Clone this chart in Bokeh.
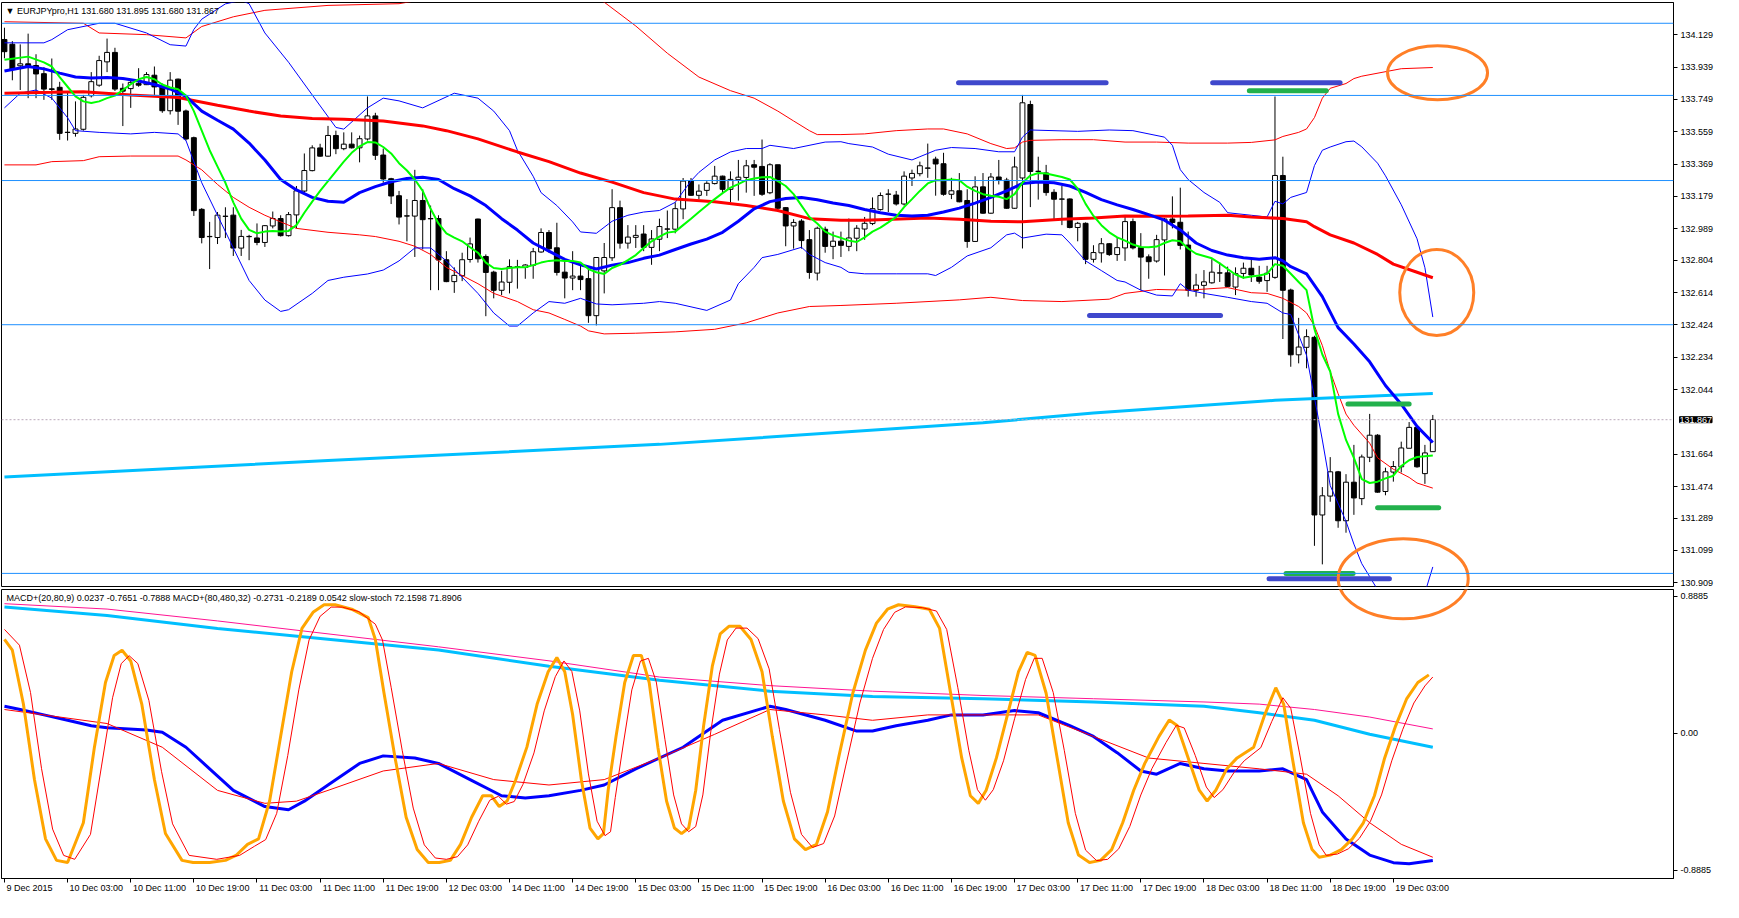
from bokeh.plotting import figure
from bokeh.models import (Range1d, FixedTicker, PrintfTickFormatter, Span, Label, ColumnDataSource,
                          LinearAxis)
from bokeh.layouts import column
from bokeh.embed import file_html
from bokeh.resources import INLINE

FONT = "Liberation Sans"

# ---------------- price data (H1 candles, bar index 0..181) ----------------
open_ = [134.100, 134.072, 133.947, 133.957, 133.947, 133.899, 133.810, 133.819, 133.555, 133.550,
         133.574, 133.771, 133.833, 133.970, 134.024, 133.813, 133.813, 133.842, 133.836, 133.890,
         133.823, 133.683, 133.867, 133.680, 133.523, 133.102, 132.943, 132.938, 133.062, 133.068,
         132.876, 132.943, 132.934, 132.909, 133.006, 133.048, 132.949, 133.071, 133.211, 133.331,
         133.463, 133.416, 133.536, 133.460, 133.485, 133.465, 133.517, 133.651, 133.421, 133.282,
         133.182, 133.064, 133.064, 133.154, 133.048, 133.048, 132.806, 132.679, 132.714, 132.809,
         133.045, 132.825, 132.733, 132.628, 132.675, 132.765, 132.762, 132.775, 132.853, 132.966,
         132.876, 132.733, 132.700, 132.710, 132.695, 132.479, 132.742, 132.819, 133.112, 132.905,
         132.939, 132.957, 132.880, 132.928, 132.987, 132.987, 133.106, 133.268, 133.186, 133.215,
         133.255, 133.297, 133.221, 133.278, 133.291, 133.364, 133.354, 133.201, 133.364, 133.112,
         133.006, 133.033, 132.924, 132.729, 132.985, 132.886, 132.915, 132.886, 132.934, 132.988,
         133.020, 133.102, 133.192, 133.186, 133.135, 133.288, 133.313, 133.345, 133.397, 133.370,
         133.192, 133.211, 133.154, 132.915, 133.234, 133.081, 133.292, 133.274, 133.110, 133.288,
         133.718, 133.326, 133.316, 133.202, 133.163, 133.163, 132.997, 133.020, 132.810, 132.848,
         132.900, 132.838, 132.877, 133.030, 132.877, 132.823, 132.800, 132.924, 133.045, 133.026,
         132.892, 132.628, 132.657, 132.672, 132.729, 132.729, 132.647, 132.727, 132.756, 132.704,
         132.685, 132.704, 133.301, 132.628, 132.249, 132.293, 132.350, 131.308, 131.419, 131.560,
         131.274, 131.499, 131.404, 131.647, 131.775, 131.446, 131.560, 131.591, 131.700, 131.821,
         131.551, 131.680]
high = [134.170, 134.091, 134.072, 134.135, 134.014, 133.938, 133.989, 133.852, 133.794, 133.737,
        133.775, 133.909, 134.005, 134.106, 134.052, 133.842, 133.861, 133.932, 133.909, 133.942,
        133.842, 133.909, 133.871, 133.689, 133.530, 133.110, 133.029, 133.087, 133.115, 133.115,
        132.982, 132.953, 133.020, 133.010, 133.090, 133.068, 133.087, 133.240, 133.431, 133.479,
        133.488, 133.593, 133.565, 133.555, 133.555, 133.536, 133.766, 133.670, 133.460, 133.288,
        133.211, 133.163, 133.335, 133.221, 133.125, 133.068, 132.857, 132.762, 132.848, 132.937,
        133.048, 132.838, 132.742, 132.742, 132.809, 132.806, 132.781, 132.876, 132.991, 132.981,
        133.024, 132.800, 132.857, 132.771, 132.762, 132.819, 132.905, 133.221, 133.154, 133.010,
        133.010, 133.010, 132.981, 133.048, 133.096, 133.144, 133.287, 133.287, 133.249, 133.268,
        133.358, 133.301, 133.326, 133.393, 133.393, 133.393, 133.513, 133.374, 133.364, 133.115,
        133.045, 133.045, 132.981, 133.001, 133.001, 132.972, 132.972, 133.049, 133.010, 133.058,
        133.173, 133.202, 133.221, 133.211, 133.326, 133.336, 133.383, 133.489, 133.412, 133.435,
        133.288, 133.316, 133.221, 133.297, 133.316, 133.316, 133.393, 133.288, 133.412, 133.775,
        133.741, 133.412, 133.364, 133.221, 133.240, 133.167, 133.029, 133.026, 132.892, 132.934,
        132.905, 132.934, 133.058, 133.049, 132.963, 132.838, 132.953, 133.052, 133.179, 133.230,
        132.972, 132.724, 132.746, 132.810, 132.790, 132.766, 132.762, 132.790, 132.810, 132.771,
        132.771, 133.766, 133.412, 132.637, 132.465, 132.398, 132.360, 131.471, 131.647, 131.566,
        131.547, 131.719, 131.662, 131.901, 131.782, 131.585, 131.624, 131.738, 131.853, 131.834,
        131.719, 131.895]
low = [133.990, 133.861, 133.804, 133.756, 133.756, 133.746, 133.746, 133.511, 133.507, 133.530,
       133.565, 133.760, 133.823, 133.909, 133.798, 133.592, 133.699, 133.823, 133.833, 133.775,
       133.670, 133.660, 133.599, 133.507, 133.064, 132.903, 132.752, 132.899, 132.934, 132.829,
       132.829, 132.804, 132.892, 132.882, 132.991, 132.943, 132.943, 132.991, 133.201, 133.326,
       133.412, 133.412, 133.427, 133.450, 133.460, 133.379, 133.507, 133.393, 133.259, 133.134,
       133.014, 132.915, 132.823, 132.867, 132.628, 132.628, 132.675, 132.612, 132.681, 132.790,
       132.790, 132.475, 132.580, 132.599, 132.609, 132.637, 132.695, 132.695, 132.848, 132.848,
       132.714, 132.580, 132.628, 132.628, 132.436, 132.421, 132.609, 132.800, 132.872, 132.872,
       132.876, 132.857, 132.777, 132.857, 132.934, 132.962, 133.045, 133.182, 133.163, 133.182,
       133.249, 133.201, 133.144, 133.154, 133.201, 133.182, 133.182, 133.192, 133.096, 132.886,
       132.872, 132.872, 132.695, 132.685, 132.848, 132.810, 132.823, 132.857, 132.857, 132.924,
       133.010, 133.096, 133.087, 133.125, 133.125, 133.240, 133.297, 133.288, 133.183, 133.183,
       133.163, 133.144, 132.877, 132.915, 133.077, 133.077, 133.249, 133.106, 133.106, 132.873,
       133.116, 133.160, 133.183, 133.045, 133.010, 132.991, 132.915, 132.781, 132.790, 132.790,
       132.829, 132.800, 132.800, 132.867, 132.628, 132.695, 132.790, 132.714, 132.991, 132.867,
       132.590, 132.590, 132.580, 132.666, 132.676, 132.647, 132.599, 132.695, 132.676, 132.666,
       132.618, 132.695, 132.341, 132.178, 132.198, 132.169, 131.126, 131.017, 131.385, 131.232,
       131.203, 131.308, 131.365, 131.618, 131.438, 131.423, 131.503, 131.557, 131.700, 131.585,
       131.490, 131.680]
close = [134.030, 133.928, 133.957, 133.947, 133.899, 133.810, 133.808, 133.550, 133.555, 133.574,
         133.760, 133.852, 133.976, 134.024, 133.810, 133.798, 133.848, 133.833, 133.894, 133.823,
         133.683, 133.861, 133.680, 133.517, 133.096, 132.938, 132.943, 133.068, 133.062, 132.876,
         132.943, 132.943, 132.909, 133.006, 133.048, 132.949, 133.071, 133.211, 133.330, 133.463,
         133.416, 133.536, 133.460, 133.485, 133.465, 133.517, 133.651, 133.421, 133.282, 133.182,
         133.058, 133.064, 133.154, 133.043, 133.048, 132.806, 132.679, 132.714, 132.806, 132.899,
         132.813, 132.733, 132.628, 132.675, 132.765, 132.765, 132.775, 132.853, 132.966, 132.872,
         132.733, 132.700, 132.710, 132.691, 132.479, 132.819, 132.819, 133.112, 132.905, 132.939,
         132.949, 132.880, 132.928, 133.001, 132.987, 133.106, 133.268, 133.186, 133.209, 133.255,
         133.297, 133.221, 133.278, 133.291, 133.358, 133.351, 133.192, 133.364, 133.110, 133.006,
         133.025, 132.920, 132.733, 132.991, 132.886, 132.915, 132.892, 132.934, 132.991, 133.020,
         133.106, 133.183, 133.192, 133.135, 133.297, 133.313, 133.358, 133.345, 133.370, 133.192,
         133.211, 133.148, 132.915, 133.234, 133.081, 133.292, 133.274, 133.110, 133.351, 133.728,
         133.326, 133.326, 133.202, 133.163, 133.163, 132.997, 133.020, 132.810, 132.848, 132.900,
         132.838, 132.877, 133.030, 132.877, 132.823, 132.796, 132.924, 133.045, 133.026, 132.892,
         132.628, 132.657, 132.676, 132.733, 132.729, 132.651, 132.724, 132.756, 132.718, 132.681,
         132.727, 133.301, 132.628, 132.249, 132.293, 132.354, 131.308, 131.419, 131.560, 131.274,
         131.499, 131.408, 131.647, 131.775, 131.442, 131.560, 131.591, 131.700, 131.821, 131.591,
         131.671, 131.867]

# ---------------- main-panel indicator lines (bar index, price) ----------------
green_x = [0, 3, 5, 6, 7, 8, 9, 10, 11, 12, 13, 14, 15, 16, 17, 18, 19, 20, 21, 22, 23, 24, 25, 26, 27, 28, 29,
           30, 31, 32, 33, 34, 35, 36, 37, 38, 39, 40, 41, 42, 43, 44, 45, 46, 47, 48, 49, 50, 51, 52, 53, 54,
           55, 56, 57, 58, 59, 60, 61, 62, 63, 64, 65, 66, 67, 68, 69, 70, 71, 72, 73, 74, 75, 76, 77, 78, 79,
           80, 81, 82, 83, 84, 85, 86, 87, 88, 89, 90, 91, 92, 93, 94, 95, 96, 97, 98, 99, 100, 101, 102, 103,
           104, 105, 106, 107, 108, 109, 110, 111, 112, 113, 114, 115, 116, 117, 118, 119, 120, 121, 122, 123,
           124, 125, 126, 127, 128, 129, 130, 131, 132, 133, 134, 135, 136, 137, 138, 139, 140, 141, 142, 143,
           144, 145, 146, 147, 148, 149, 150, 151, 152, 153, 154, 155, 156, 157, 158, 159, 160, 161, 162, 163,
           164, 165, 166, 167, 168, 169, 170, 171, 172, 173, 174, 175, 176, 177, 178, 179, 180, 181]
green_y = [133.982, 134.000, 133.966, 133.942, 133.880, 133.823, 133.766, 133.737, 133.727, 133.737, 133.756,
           133.771, 133.804, 133.838, 133.867, 133.880, 133.867, 133.836, 133.819, 133.808, 133.771, 133.680,
           133.565, 133.450, 133.354, 133.259, 133.144, 133.048, 132.982, 132.962, 132.972, 132.976, 132.972,
           132.976, 133.010, 133.083, 133.148, 133.211, 133.268, 133.326, 133.383, 133.435, 133.473, 133.498,
           133.496, 133.469, 133.431, 133.374, 133.331, 133.278, 133.211, 133.106, 133.020, 132.962, 132.937,
           132.915, 132.880, 132.848, 132.790, 132.758, 132.752, 132.758, 132.762, 132.762, 132.775, 132.790,
           132.800, 132.804, 132.800, 132.800, 132.790, 132.752, 132.733, 132.723, 132.758, 132.777, 132.804,
           132.834, 132.876, 132.915, 132.943, 132.966, 132.972, 133.010, 133.048, 133.087, 133.125, 133.163,
           133.198, 133.230, 133.251, 133.274, 133.284, 133.291, 133.293, 133.268, 133.240, 133.192, 133.125,
           133.058, 133.020, 132.972, 132.950, 132.935, 132.919, 132.911, 132.938, 132.972, 132.995, 133.026,
           133.058, 133.116, 133.163, 133.211, 133.255, 133.274, 133.274, 133.278, 133.274, 133.236, 133.211,
           133.192, 133.183, 133.177, 133.163, 133.192, 133.259, 133.301, 133.316, 133.313, 133.303, 133.293,
           133.278, 133.225, 133.135, 133.064, 133.010, 132.968, 132.938, 132.919, 132.896, 132.882, 132.880,
           132.884, 132.905, 132.921, 132.915, 132.873, 132.842, 132.829, 132.815, 132.785, 132.752, 132.720,
           132.701, 132.708, 132.714, 132.724, 132.781, 132.771, 132.724, 132.676, 132.628, 132.400, 132.250,
           132.150, 131.901, 131.748, 131.643, 131.518, 131.495, 131.503, 131.522, 131.538, 131.595, 131.629,
           131.648, 131.652, 131.656]

blue_x = [0, 3, 5, 7, 9, 11, 13, 15, 17, 19, 21, 23, 25, 27, 29, 31, 33, 35, 37, 39, 41, 43, 45, 47, 49, 51, 53,
          55, 57, 59, 61, 63, 65, 67, 69, 71, 73, 75, 77, 79, 81, 83, 85, 87, 89, 91, 93, 95, 97, 99, 101, 103,
          105, 107, 109, 111, 113, 115, 117, 119, 121, 123, 125, 127, 129, 131, 133, 135, 137, 139, 141, 143,
          145, 147, 149, 151, 153, 155, 157, 159, 161, 162, 163, 165, 167, 169, 171, 173, 175, 177, 179, 181]
blue_y = [133.915, 133.942, 133.928, 133.903, 133.880, 133.875, 133.878, 133.871, 133.857, 133.836, 133.810,
          133.766, 133.680, 133.626, 133.574, 133.492, 133.393, 133.278, 133.217, 133.173, 133.150, 133.144,
          133.201, 133.236, 133.265, 133.284, 133.291, 133.278, 133.224, 133.182, 133.125, 133.048, 132.981,
          132.905, 132.857, 132.809, 132.777, 132.752, 132.775, 132.790, 132.815, 132.834, 132.867, 132.899,
          132.928, 132.968, 133.033, 133.106, 133.148, 133.167, 133.173, 133.159, 133.140, 133.125, 133.102,
          133.083, 133.068, 133.064, 133.068, 133.087, 133.110, 133.139, 133.173, 133.211, 133.255, 133.263,
          133.259, 133.240, 133.202, 133.160, 133.129, 133.102, 133.072, 133.039, 132.982, 132.905, 132.861,
          132.834, 132.819, 132.810, 132.819, 132.800, 132.766, 132.724, 132.590, 132.408, 132.312, 132.207,
          132.068, 131.958, 131.828, 131.733]

red_x = [0, 6, 10, 16, 22, 27, 31, 35, 39, 43, 48, 53, 56, 60, 65, 69, 73, 77, 81, 85, 90, 94, 98, 102, 106,
         109, 117, 121, 125, 129, 134, 138, 142, 146, 150, 155, 158, 162, 165, 166, 168, 171, 174, 176, 179, 181]
red_y = [133.785, 133.790, 133.794, 133.775, 133.760, 133.714, 133.680, 133.651, 133.637, 133.632, 133.622,
         133.593, 133.565, 133.517, 133.440, 133.383, 133.316, 133.263, 133.201, 133.163, 133.148, 133.125,
         133.096, 133.048, 133.039, 133.039, 133.052, 133.045, 133.033, 133.030, 133.045, 133.052, 133.064,
         133.062, 133.064, 133.068, 133.058, 133.049, 133.030, 133.001, 132.953, 132.905, 132.838, 132.781,
         132.733, 132.701]

cyan_x = [0, 41, 83, 124, 138, 161, 181]
cyan_y = [131.531, 131.627, 131.722, 131.849, 131.906, 131.981, 132.021]

bbup_x = [0, 5, 6, 8, 12, 14, 18, 21, 23, 24, 25, 26, 28, 30, 31, 33, 36, 39, 42, 43, 46, 48, 50, 53, 57, 60,
          62, 64, 65, 67, 68, 70, 72, 73, 75, 77, 79, 81, 83, 85, 87, 88, 90, 92, 94, 96, 97, 100, 104, 106,
          107, 110, 112, 115, 116, 118, 120, 123, 126, 128, 129, 130, 136, 140, 143, 147, 148, 149, 150, 152,
          154, 155, 158, 160, 161, 162, 163, 165, 166, 167, 168, 170, 171, 172, 174, 175, 177, 179, 180, 181]
bbup_y = [134.081, 134.081, 134.100, 134.158, 134.196, 134.196, 134.139, 134.070, 134.062, 134.160, 134.220,
          134.250, 134.310, 134.330, 134.311, 134.139, 133.967, 133.775, 133.584, 133.574, 133.699, 133.756,
          133.740, 133.699, 133.785, 133.756, 133.680, 133.565, 133.450, 133.297, 133.201, 133.125, 133.029,
          132.970, 132.962, 133.033, 133.068, 133.087, 133.096, 133.144, 133.270, 133.320, 133.393, 133.440,
          133.460, 133.460, 133.479, 133.460, 133.498, 133.500, 133.489, 133.469, 133.427, 133.393, 133.412,
          133.450, 133.466, 133.460, 133.441, 133.441, 133.527, 133.569, 133.561, 133.569, 133.565, 133.527,
          133.479, 133.336, 133.278, 133.202, 133.144, 133.083, 133.068, 133.058, 133.150, 133.135, 133.173,
          133.202, 133.360, 133.450, 133.469, 133.500, 133.504, 133.470, 133.374, 133.300, 133.130, 132.930,
          132.760, 132.470]

bblo_x = [0, 2, 4, 6, 8, 9, 12, 16, 19, 22, 23, 25, 27, 29, 31, 33, 35, 36, 39, 41, 43, 46, 48, 50, 52, 54,
          56, 58, 60, 62, 64, 65, 67, 69, 71, 73, 75, 77, 81, 83, 85, 89, 92, 93, 95, 96, 98, 101, 102, 104,
          106, 107, 109, 113, 117, 118, 120, 122, 125, 127, 128, 129, 132, 134, 135, 137, 139, 141, 142, 144,
          146, 148, 149, 150, 152, 155, 158, 160, 162, 163, 165, 166, 167, 168, 170, 171, 172, 173, 174, 175,
          177, 179, 180, 181]
bblo_y = [133.699, 133.785, 133.804, 133.756, 133.641, 133.565, 133.555, 133.546, 133.555, 133.546, 133.507,
          133.259, 133.068, 132.876, 132.685, 132.570, 132.503, 132.513, 132.609, 132.685, 132.704, 132.723,
          132.746, 132.800, 132.876, 132.876, 132.800, 132.704, 132.609, 132.494, 132.417, 132.417, 132.494,
          132.561, 132.551, 132.580, 132.547, 132.542, 132.551, 132.561, 132.551, 132.509, 132.570, 132.666,
          132.762, 132.819, 132.838, 132.880, 132.838, 132.790, 132.762, 132.733, 132.724, 132.724, 132.724,
          132.714, 132.762, 132.829, 132.877, 132.953, 132.963, 132.934, 132.957, 132.953, 132.905, 132.800,
          132.743, 132.685, 132.676, 132.628, 132.599, 132.594, 132.666, 132.628, 132.609, 132.586, 132.561,
          132.551, 132.494, 132.485, 132.245, 131.997, 131.748, 131.480, 131.270, 131.136, 131.021, 130.945,
          130.868, 130.800, 130.720, 130.750, 130.850, 131.002]

envup_x = [0, 10, 12, 18, 23, 25, 29, 33, 41, 50, 56, 62, 70, 76, 80, 84, 88, 92, 95, 98, 100, 102, 103, 106,
           109, 113, 117, 119, 122, 125, 127, 128, 129, 130, 134, 138, 142, 146, 150, 155, 158, 161, 162, 164,
           165, 166, 167, 168, 170, 171, 172, 177, 181]
envup_y = [134.205, 134.196, 134.139, 134.129, 134.110, 134.177, 134.234, 134.272, 134.301, 134.311, 134.360,
           134.420, 134.420, 134.320, 134.180, 134.020, 133.880, 133.800, 133.756, 133.680, 133.622, 133.565,
           133.542, 133.542, 133.546, 133.565, 133.575, 133.575, 133.546, 133.489, 133.460, 133.464, 133.498,
           133.508, 133.512, 133.512, 133.498, 133.498, 133.492, 133.492, 133.496, 133.511, 133.531, 133.555,
           133.575, 133.642, 133.756, 133.814, 133.842, 133.871, 133.885, 133.929, 133.936]

envlo_x = [0, 4, 6, 10, 12, 16, 22, 23, 25, 27, 29, 31, 33, 35, 37, 41, 45, 47, 50, 52, 54, 56, 58, 60, 62, 65,
           67, 69, 71, 73, 74, 76, 80, 85, 90, 94, 98, 102, 106, 113, 121, 125, 129, 134, 140, 142, 146, 150,
           155, 158, 160, 162, 164, 165, 166, 167, 168, 169, 170, 171, 173, 174, 176, 178, 179, 181]
envlo_y = [133.364, 133.364, 133.383, 133.389, 133.412, 133.416, 133.416, 133.393, 133.335, 133.249, 133.173,
           133.115, 133.068, 133.029, 132.991, 132.968, 132.953, 132.943, 132.915, 132.886, 132.838, 132.762,
           132.714, 132.666, 132.609, 132.561, 132.513, 132.494, 132.456, 132.417, 132.389, 132.371, 132.375,
           132.383, 132.398, 132.436, 132.494, 132.532, 132.538, 132.551, 132.571, 132.586, 132.567, 132.561,
           132.575, 132.609, 132.632, 132.628, 132.643, 132.613, 132.609, 132.580, 132.532, 132.494, 132.418,
           132.303, 132.150, 132.020, 131.900, 131.834, 131.729, 131.643, 131.576, 131.528, 131.495, 131.465]

# horizontal levels and current price
levels = [134.196, 133.772, 133.272, 132.425, 130.964]
last_price = 131.867
price_ticks = [134.129, 133.939, 133.749, 133.559, 133.369, 133.179, 132.989, 132.804, 132.614, 132.424,
               132.234, 132.044, 131.664, 131.474, 131.289, 131.099, 130.909]

# drawn support / resistance marks (bar start, bar end, price)
blue_mark_x0 = [120.9, 153.1, 137.5, 160.25]
blue_mark_x1 = [139.6, 169.25, 154.1, 175.5]
blue_mark_y = [133.846, 133.846, 132.479, 130.932]
green_mark_x0 = [157.75, 170.25, 174.0, 162.4]
green_mark_x1 = [167.5, 178.0, 181.75, 170.9]
green_mark_y = [133.800, 131.959, 131.350, 130.964]

# orange ellipses: centre (bar, price)
ell_x = [181.6, 181.5, 177.25]
ell_y = [133.905, 132.614, 130.933]

# ---------------- lower panel ----------------
macd_x = [0, 2, 5, 8, 11, 13, 18, 20, 23, 26, 29, 33, 36, 38, 41, 45, 48, 52, 55, 59, 63, 66, 69, 73, 76, 80,
          86, 91, 97, 99, 104, 108, 110, 113, 117, 120, 124, 128, 131, 135, 138, 141, 144, 146, 149, 152, 155,
          159, 162, 165, 167, 170, 173, 176, 178, 181]
macd_y = [0.175, 0.154, 0.119, 0.084, 0.049, 0.035, 0.021, 0.007, -0.091, -0.231, -0.371, -0.476, -0.497,
          -0.441, -0.336, -0.196, -0.147, -0.161, -0.196, -0.301, -0.406, -0.420, -0.406, -0.371, -0.336,
          -0.231, -0.091, 0.084, 0.175, 0.154, 0.084, 0.014, 0.014, 0.049, 0.084, 0.119, 0.119, 0.147, 0.133,
          0.049, -0.021, -0.126, -0.245, -0.266, -0.196, -0.231, -0.245, -0.245, -0.231, -0.301, -0.511,
          -0.686, -0.791, -0.840, -0.847, -0.826]
sig_x = [0, 7, 13, 20, 27, 33, 37, 41, 48, 55, 62, 69, 76, 83, 90, 97, 104, 110, 117, 124, 131, 138, 145, 152,
         159, 165, 169, 173, 177, 181]
sig_y = [0.154, 0.105, 0.063, -0.091, -0.371, -0.455, -0.441, -0.371, -0.245, -0.196, -0.301, -0.336, -0.301,
         -0.161, -0.007, 0.154, 0.119, 0.084, 0.119, 0.119, 0.119, -0.021, -0.161, -0.196, -0.231, -0.266,
         -0.406, -0.581, -0.721, -0.805]
macd2_x = [0, 13, 27, 41, 55, 69, 83, 97, 110, 124, 138, 152, 159, 166, 173, 181]
macd2_y = [0.820, 0.764, 0.680, 0.610, 0.540, 0.435, 0.344, 0.273, 0.238, 0.224, 0.203, 0.175, 0.133, 0.084,
           -0.007, -0.091]
sig2_x = [0, 13, 27, 41, 55, 69, 83, 97, 110, 124, 138, 152, 159, 166, 173, 181]
sig2_y = [0.841, 0.806, 0.729, 0.645, 0.561, 0.470, 0.365, 0.309, 0.273, 0.245, 0.224, 0.203, 0.189, 0.154,
          0.105, 0.028]

stoch_x = [0, 1.0, 2.4, 3.8, 5.2, 6.6, 8.0, 10.0, 11.4, 12.8, 13.9, 14.9, 16.0, 17.4, 19.0, 20.4, 22.5, 23.9,
           26.0, 28.0, 29.4, 30.8, 32.2, 33.6, 35.0, 36.4, 37.7, 39.1, 40.5, 41.9, 44.0, 46.1, 47.0, 48.1, 49.5,
           50.9, 52.3, 53.7, 55.1, 56.5, 57.8, 59.2, 60.6, 61.7, 62.7, 63.7, 64.8, 66.2, 67.5, 68.9, 70.0, 71.0,
           72.0, 73.1, 74.2, 75.2, 75.9, 76.5, 77.5, 78.6, 79.7, 80.7, 81.7, 82.8, 83.9, 84.9, 85.8, 86.7, 87.6,
           88.6, 89.7, 90.7, 91.8, 93.2, 94.6, 96.0, 97.3, 98.7, 100.1, 101.5, 102.9, 104.3, 105.7, 107.5, 109.1,
           110.5, 111.9, 113.3, 115.4, 117.2, 118.5, 119.9, 121.3, 122.4, 123.4, 124.4, 125.7, 127.1, 128.5,
           129.6, 130.6, 132.0, 133.4, 134.8, 136.1, 137.5, 138.9, 140.3, 141.7, 143.1, 144.5, 146.3, 147.6,
           148.6, 150.0, 151.4, 152.4, 153.5, 154.9, 156.2, 158.3, 159.7, 161.1, 162.1, 163.2, 164.6, 165.7,
           166.6, 168.0, 169.4, 170.8, 172.2, 173.6, 174.9, 176.3, 177.7, 179.1, 180.5]
stoch_y = [86.2, 82.1, 61.6, 32.9, 10.3, 2.1, 1.3, 16.4, 45.2, 69.8, 80.1, 82.1, 78.0, 61.6, 32.9, 12.3, 2.1, 1.3,
           1.3, 2.1, 4.1, 8.2, 10.3, 24.7, 49.3, 73.9, 90.4, 96.5, 99.4, 99.4, 97.7, 94.5, 86.2, 65.7, 41.1,
           18.5, 6.2, 1.3, 1.3, 2.1, 8.2, 18.5, 26.7, 26.7, 22.6, 24.7, 32.9, 45.2, 61.6, 73.9, 79.3, 73.9, 57.5,
           32.9, 14.4, 10.3, 12.3, 28.8, 49.3, 69.8, 80.1, 80.1, 69.8, 45.2, 24.7, 14.4, 12.3, 14.4, 28.8, 53.4,
           76.0, 88.3, 91.2, 91.2, 86.2, 73.9, 49.3, 24.7, 10.3, 6.2, 8.2, 20.6, 41.1, 65.7, 82.1, 92.4, 97.7,
           99.4, 98.6, 97.7, 90.4, 65.7, 41.1, 26.7, 23.8, 28.8, 41.1, 57.5, 73.9, 81.3, 80.1, 65.7, 41.1, 16.4,
           4.1, 1.3, 2.1, 6.2, 16.4, 28.8, 39.0, 49.3, 55.5, 53.4, 41.1, 28.8, 24.7, 28.8, 37.0, 41.1, 45.2,
           57.5, 67.8, 61.6, 41.1, 16.4, 6.2, 3.3, 4.1, 6.2, 10.3, 16.4, 26.7, 41.1, 53.4, 63.7, 69.8, 72.7]

stsig_x = [0, 1.9, 3.3, 4.7, 6.1, 7.5, 8.9, 10.9, 12.3, 13.7, 14.8, 15.8, 16.9, 18.3, 19.9, 21.3, 23.4, 26.9,
           29.8, 31.7, 33.1, 34.5, 35.9, 37.3, 38.6, 40.0, 41.4, 42.8, 44.9, 47.0, 47.9, 49.0, 50.4, 51.8, 53.2,
           54.6, 56.0, 57.4, 58.7, 60.1, 61.5, 62.6, 63.6, 64.6, 65.7, 67.1, 68.4, 69.8, 70.9, 71.9, 72.9, 74.0,
           75.1, 76.1, 76.8, 77.4, 78.4, 79.5, 80.6, 81.6, 82.6, 83.7, 84.8, 85.8, 86.7, 87.6, 88.5, 89.5, 90.6,
           91.6, 92.7, 94.1, 95.5, 96.9, 98.2, 99.6, 101.0, 102.4, 103.8, 105.2, 106.6, 108.4, 110.0, 111.4,
           112.8, 114.2, 116.3, 118.1, 119.4, 120.8, 122.2, 123.3, 124.3, 125.3, 126.6, 128.0, 129.4, 130.5,
           131.5, 132.9, 134.3, 135.7, 137.0, 138.4, 139.8, 141.2, 142.6, 144.0, 145.4, 147.2, 148.5, 149.5,
           150.9, 152.3, 153.3, 154.4, 155.8, 157.1, 159.2, 160.6, 162.0, 163.0, 164.1, 165.5, 166.6, 167.5,
           168.9, 170.3, 171.7, 173.1, 174.5, 175.8, 177.2, 178.6, 180.0, 181.0]
stsig_y = [90, 84, 66, 37, 14, 4, 2.5, 12, 38, 64, 77, 80, 77, 63, 36, 16, 4, 2.5, 4, 7.5, 10, 20, 42, 67, 86,
           95, 98.5, 98.5, 96.8, 92, 86, 68, 44, 22, 8, 3, 2.5, 3.5, 8, 17, 25, 26.5, 23.5, 24.5, 31, 43, 59,
           72, 78, 74, 59, 35, 17, 11.5, 13, 26, 46, 67, 78, 79, 70, 48, 27, 16, 13, 15, 27, 51, 73, 86, 90.5,
           90.5, 86.5, 75, 52, 28, 12, 7, 8.5, 19, 38, 62, 79, 90, 96.5, 98.6, 98.3, 97, 90, 68, 44, 29, 25, 29,
           40, 56, 71, 79, 79, 66, 44, 20, 6, 2, 2.5, 6.5, 15, 27, 37, 47, 53.5, 52.5, 42, 30, 26, 29, 35.5, 40,
           45, 55, 64, 60, 43, 20, 8, 4, 4.5, 6.5, 10.5, 17, 27, 40, 52, 62, 68.5, 71.9]

date_labels = ["9 Dec 2015", "10 Dec 03:00", "10 Dec 11:00", "10 Dec 19:00", "11 Dec 03:00", "11 Dec 11:00",
               "11 Dec 19:00", "12 Dec 03:00", "14 Dec 11:00", "14 Dec 19:00", "15 Dec 03:00", "15 Dec 11:00",
               "15 Dec 19:00", "16 Dec 03:00", "16 Dec 11:00", "16 Dec 19:00", "17 Dec 03:00", "17 Dec 11:00",
               "17 Dec 19:00", "18 Dec 03:00", "18 Dec 11:00", "18 Dec 19:00", "19 Dec 03:00"]
bars_per_label = 8

# ---------------- figure setup ----------------
FW = 1672
MAIN_H = 584
IND_H = 289
Y0, Y1 = 130.887, 134.318
IY0, IY1 = -0.943, 0.933
GAP = 3
FS = 9  # font size in px

xr = Range1d(-0.375, 211.5)

p = figure(frame_width=FW, frame_height=MAIN_H, x_range=xr, y_range=Range1d(Y0, Y1),
           output_backend="svg", toolbar_location=None, y_axis_location="right",
           x_axis_location=None, min_border_left=1, min_border_top=2, min_border_bottom=GAP,
           min_border_right=2)
p.grid.visible = False
p.outline_line_color = "black"


def style_y(ax):
    ax.axis_line_color = "black"
    ax.major_tick_out = 4
    ax.major_tick_in = 0
    ax.minor_tick_out = 0
    ax.minor_tick_in = 0
    ax.major_label_text_font = FONT
    ax.major_label_text_font_size = f"{FS}px"
    ax.major_label_text_color = "black"
    ax.major_label_standoff = 3


ay = p.yaxis[0]
ay.ticker = FixedTicker(ticks=price_ticks)
ay.formatter = PrintfTickFormatter(format="%.3f")
style_y(ay)

for lv in levels:
    p.add_layout(Span(location=lv, dimension="width", line_color="#1E90FF", line_width=1))
p.add_layout(Span(location=last_price, dimension="width", line_color="#BBA8BB", line_width=1,
                  line_dash="2 2"))

# candles
bars = list(range(len(close)))
body_top = [max(o, c) + 0.0008 for o, c in zip(open_, close)]
body_bot = [min(o, c) - 0.0008 for o, c in zip(open_, close)]
fill = ["white" if c >= o else "black" for o, c in zip(open_, close)]
src = ColumnDataSource(dict(x=bars, h=high, l=low, top=body_top, bot=body_bot, fill=fill))
p.segment(x0="x", y0="l", x1="x", y1="h", source=src, line_color="black", line_width=1)
p.vbar(x="x", width=0.62, top="top", bottom="bot", source=src, fill_color="fill",
       line_color="black", line_width=1)

# indicator lines
p.line(envup_x, envup_y, line_color="#FF0000", line_width=1)
p.line(envlo_x, envlo_y, line_color="#FF0000", line_width=1)
p.line(bbup_x, bbup_y, line_color="#0000FF", line_width=1)
p.line(bblo_x, bblo_y, line_color="#0000FF", line_width=1)
p.line(red_x, red_y, line_color="#FF0000", line_width=3)
p.line(cyan_x, cyan_y, line_color="#00BFFF", line_width=3)
p.line(blue_x, blue_y, line_color="#0000FF", line_width=3)
p.line(green_x, green_y, line_color="#00FF00", line_width=2)

# hand-drawn marks
p.segment(x0=blue_mark_x0, x1=blue_mark_x1, y0=blue_mark_y, y1=blue_mark_y, line_color="#3F48CC",
          line_width=5, line_cap="round")
p.segment(x0=green_mark_x0, x1=green_mark_x1, y0=green_mark_y, y1=green_mark_y, line_color="#22B14C",
          line_width=5, line_cap="round")
ell_w = [100, 74, 130]
ell_h = [54, 86, 80]
p.ellipse(x=ell_x, y=ell_y, width=ell_w, height=ell_h, width_units="screen", height_units="screen",
          fill_alpha=0, line_color="#FF7F27", line_width=3)

p.add_layout(Label(x=xr.start, y=Y1, x_offset=4, y_offset=-3, text_baseline="top",
                   text="▼ EURJPYpro,H1  131.680 131.895 131.680 131.867",
                   text_font=FONT, text_font_size=f"{FS}px", text_color="black"))

# current-price box on the price scale (placed in the right side panel so it is not clipped)
price_box = Label(x=-37, x_units="screen", y=last_price, y_units="data", text_baseline="middle",
                  text=f"{last_price:.3f}", text_font=FONT, text_font_size=f"{FS}px",
                  text_color="white", background_fill_color="black", border_line_color="black")
p.add_layout(price_box, "right")

# ---------------- lower panel ----------------
p2 = figure(frame_width=FW, frame_height=IND_H, x_range=xr, y_range=Range1d(IY0, IY1),
            output_backend="svg", toolbar_location=None, y_axis_location="right",
            min_border_left=1, min_border_top=0, min_border_bottom=0, min_border_right=2)
p2.grid.visible = False
p2.outline_line_color = "black"
p2.extra_y_ranges = {"stoch": Range1d(-4.8, 105.2)}

ay2 = p2.yaxis[0]
ay2.ticker = FixedTicker(ticks=[0.8885, 0.0, -0.8885])
ay2.major_label_overrides = {0.8885: "0.8885", 0.0: "0.00", -0.8885: "-0.8885"}
style_y(ay2)

# time scale: tick marks at the label bars, texts starting just right of each tick
date_ticks = [bars_per_label * k for k in range(len(date_labels))]
ax2 = p2.xaxis[0]
ax2.ticker = FixedTicker(ticks=date_ticks)
ax2.major_label_overrides = {t: "" for t in date_ticks}
ax2.major_label_text_font_size = "1px"
ax2.major_label_standoff = 0
ax2.major_tick_out = 4
ax2.major_tick_in = 0
ax2.minor_tick_out = 0
ax2.minor_tick_in = 0
ax2.axis_line_color = "black"

CHAR_W = {" ": 0.278, ":": 0.278, "D": 0.722, "e": 0.556, "c": 0.5}
px_per_bar = FW / (xr.end - xr.start)


def text_w(s):
    return sum(CHAR_W.get(ch, 0.556) for ch in s) * FS


label_pos = [round(t + (text_w(s) / 2 + 2) / px_per_bar, 3) for t, s in zip(date_ticks, date_labels)]
ax_lab = LinearAxis(ticker=FixedTicker(ticks=label_pos),
                    major_label_overrides={pos: s for pos, s in zip(label_pos, date_labels)},
                    major_tick_out=0, major_tick_in=0, minor_tick_out=0, minor_tick_in=0,
                    axis_line_color=None, major_label_standoff=0,
                    major_label_text_font=FONT, major_label_text_font_size=f"{FS}px",
                    major_label_text_color="black")
p2.add_layout(ax_lab, "below")

p2.line(macd2_x, macd2_y, line_color="#00BFFF", line_width=3)
p2.line(sig2_x, sig2_y, line_color="#FF1493", line_width=1)
p2.line(macd_x, macd_y, line_color="#0000FF", line_width=3)
p2.line(sig_x, sig_y, line_color="#FF0000", line_width=1)
p2.line(stoch_x, stoch_y, line_color="#FFA500", line_width=3, y_range_name="stoch")
p2.line(stsig_x, stsig_y, line_color="#FF0000", line_width=1, y_range_name="stoch")

# lower part of the third ellipse continues into the lower panel
main_ppu = MAIN_H / (Y1 - Y0)
ind_ppu = IND_H / (IY1 - IY0)
e3_above_px = (ell_y[2] - Y0) * main_ppu
e3_ind_y = IY1 + (e3_above_px + GAP) / ind_ppu
p2.ellipse(x=[ell_x[2]], y=[e3_ind_y], width=[ell_w[2]], height=[ell_h[2]], width_units="screen",
           height_units="screen", fill_alpha=0, line_color="#FF7F27", line_width=3)

p2.add_layout(Label(x=xr.start, y=IY1, x_offset=5, y_offset=-3, text_baseline="top",
                    text="MACD+(20,80,9) 0.0237 -0.7651 -0.7888  MACD+(80,480,32) -0.2731 -0.2189 0.0542  "
                         "slow-stoch 72.1598 71.8906",
                    text_font=FONT, text_font_size=f"{FS}px", text_color="black"))

layout = column(p, p2)
open("out.html", "w").write(file_html(layout, INLINE))
